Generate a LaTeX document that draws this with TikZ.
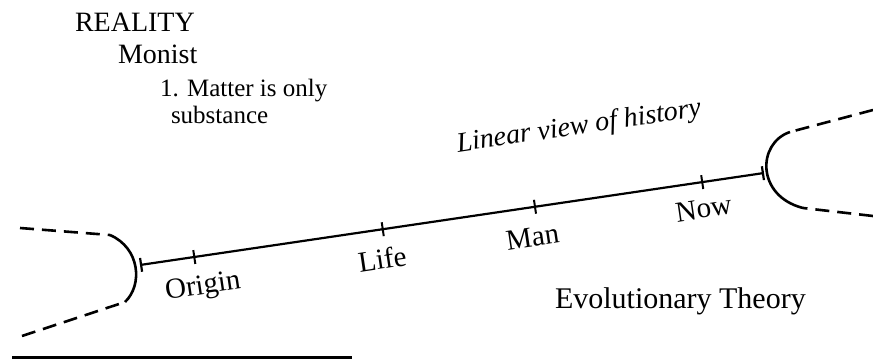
\documentclass[tikz,border=0pt]{standalone}
\usepackage{fontspec}
\setmainfont{Liberation Serif}
\usetikzlibrary{arrows.meta, positioning, calc}

\begin{document}
\begin{tikzpicture}[
  x=1pt, y=-1pt,
  font=\fontsize{29}{34}\selectfont,
  every node/.style={inner sep=0pt, outer sep=0pt},
  timeline/.style={line width=2.2pt},
  wing/.style={line width=2.6pt},
  fringe/.style={line width=2.6pt, dash pattern=on 14pt off 8pt},
  tickmark/.style={line width=2pt},
  era/.style={anchor=north, rotate=8.4},
  heading/.style={anchor=base west, font=\fontsize{28}{32}\selectfont},
  item/.style={anchor=base west, font=\fontsize{25}{30}\selectfont},
  slanted/.style={anchor=base west, rotate=8.4,
                  font=\fontsize{28}{34}\selectfont\itshape},
]
\useasboundingbox (0,0) rectangle (873,364);

% headings
\node[heading] (reality) at (75,31) {REALITY};
\node[heading] (monist) at (118,63) {Monist};
\node[item] (matter) at (160,96) {1. Matter is only};
\node[item] (substance) at (171,123) {substance};

% the line of history
\coordinate (start) at (140,265);
\coordinate (stop) at (764,173);
\draw[timeline, {Bar[width=14pt]}-{Bar[width=14pt]}] (start) -- (stop);

\foreach \name/\pos in {origin/0.087, life/0.389, man/0.633, now/0.901} {
  \coordinate (\name) at ($(start)!\pos!(stop)$);
  \draw[tickmark] ($(\name)!7pt!90:(stop)$) -- ($(\name)!7pt!-90:(stop)$);
}

\node[era, below=19pt of origin, xshift=7pt] (originlabel) {Origin};
\node[era, below=19pt of life, xshift=-2pt] (lifelabel) {Life};
\node[era, below=20pt of man, xshift=-4pt] (manlabel) {Man};
\node[era, below=17pt of now] (nowlabel) {Now};

\node[slanted] (linear) at (458,152) {Linear view of history};

% the two open ends
\coordinate (lefttop) at (110,235);
\coordinate (leftbot) at (125,302);
\coordinate (righttop) at (790,132);
\coordinate (rightbot) at (803,208);
\coordinate (farlefttop) at (20,228);
\coordinate (farleftbot) at (22,336);
\coordinate (farrighttop) at (873,110);
\coordinate (farrightbot) at (873,216);

\draw[wing] (lefttop) .. controls (140,248) and (143,285) .. (leftbot);
\draw[wing] (righttop) .. controls (757,143) and (756,196) .. (rightbot);
\draw[fringe] (farlefttop) -- (lefttop);
\draw[fringe] (farleftbot) -- (leftbot);
\draw[fringe] (farrighttop) -- (righttop);
\draw[fringe] (farrightbot) -- (rightbot);

\node[heading, font=\fontsize{30}{34}\selectfont] (theory) at (555,308)
  {Evolutionary Theory};

% rule under the figure
\coordinate (rulestart) at (12,357);
\coordinate (ruleend) at (352,357);
\draw[line width=3pt] (rulestart) -- (ruleend);

\end{tikzpicture}
\end{document}
